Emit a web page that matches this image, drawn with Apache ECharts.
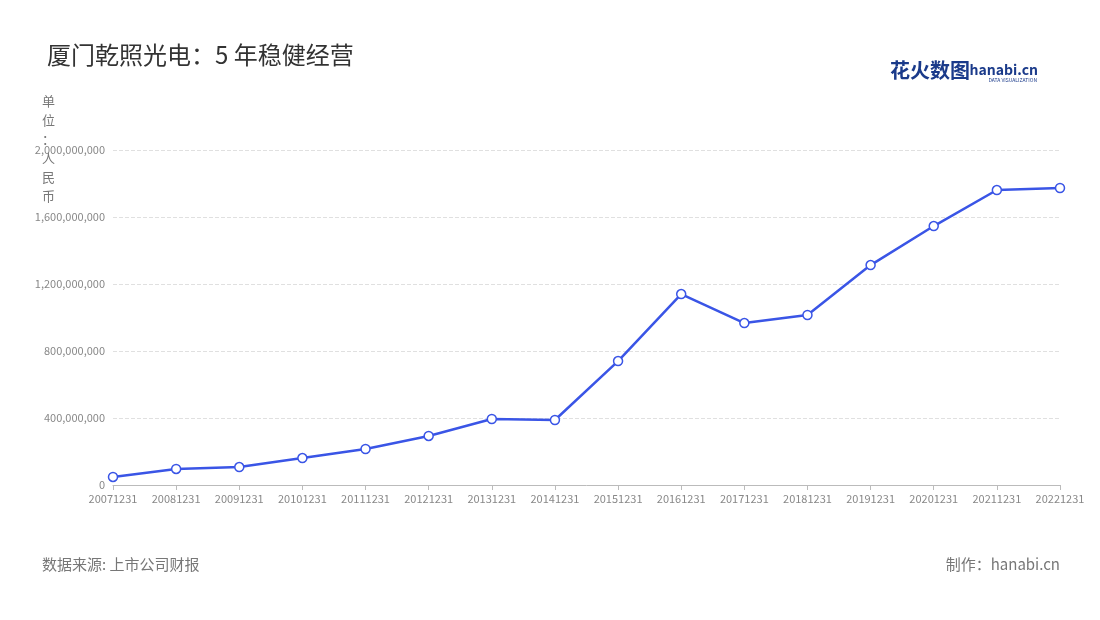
<!DOCTYPE html>
<html>
<head>
<meta charset="utf-8">
<script src="https://cdn.jsdelivr.net/npm/echarts@6/dist/echarts.min.js"></script>
<style>
  html, body { margin: 0; padding: 0; background: #fff; }
  #main { width: 1100px; height: 620px; }
</style>
</head>
<body>
<div id="main"></div>
<script>
const years = ["20071231", "20081231", "20091231", "20101231", "20111231", "20121231", "20131231", "20141231",
  "20151231", "20161231", "20171231", "20181231", "20191231", "20201231", "20211231", "20221231"];
const revenue = [48e6, 96e6, 107e6, 161e6, 215e6, 293e6, 394e6, 388e6,
  740e6, 1140e6, 967e6, 1015e6, 1313e6, 1546e6, 1761e6, 1773e6];

const chart = echarts.init(document.getElementById("main"));
const font = "'Noto Sans CJK SC', 'Noto Sans', sans-serif";

chart.setOption({
  textStyle: { fontFamily: font },
  title: {
    text: "厦门乾照光电：5 年稳健经营",
    left: 42, top: 38,
    textStyle: { fontSize: 24, fontWeight: "normal", color: "#333", fontFamily: font }
  },
  graphic: [
    { type: "text", left: 42, top: 92, style: { text: "单\n位\n：\n人\n民\n币", fill: "#777", font: "13px " + font, lineHeight: 19 } },
    { type: "text", left: 42, top: 557, style: { text: "数据来源: 上市公司财报", fill: "#777", font: "15px " + font } },
    { type: "text", right: 40, top: 557, style: { text: "制作：hanabi.cn", fill: "#777", font: "15px " + font } },
    { type: "text", right: 130, top: 60, style: { text: "花火数图", fill: "#1a3a8a", font: "bold 20px " + font } },
    { type: "text", right: 62, top: 63, style: { text: "hanabi.cn", fill: "#1a3a8a", font: "bold 14px " + font } },
    { type: "text", right: 63, top: 78, style: { text: "DATA VISUALIZATION", fill: "#1a3a8a", font: "5px " + font } }
  ],
  grid: { left: 113, right: 40, top: 150, bottom: 135 },
  xAxis: {
    type: "category",
    data: years,
    boundaryGap: false,
    axisLine: { lineStyle: { color: "#bbb" } },
    axisTick: { show: true, alignWithLabel: true, lineStyle: { color: "#bbb" } },
    axisLabel: { color: "#888", fontSize: 11, interval: 0, margin: 8 }
  },
  yAxis: {
    type: "value",
    min: 0, max: 2000000000, interval: 400000000,
    axisLabel: {
      color: "#888", fontSize: 11,
      formatter: v => v.toLocaleString("en-US")
    },
    splitLine: { lineStyle: { color: "#e0e0e0", type: "dashed" } },
    axisLine: { show: false },
    axisTick: { show: false }
  },
  series: [{
    type: "line",
    data: revenue,
    symbol: "circle",
    symbolSize: 9,
    itemStyle: { color: "#fff", borderColor: "#3a55e6", borderWidth: 1.5 },
    lineStyle: { color: "#3a55e6", width: 2.5 }
  }]
});
</script>
</body>
</html>
